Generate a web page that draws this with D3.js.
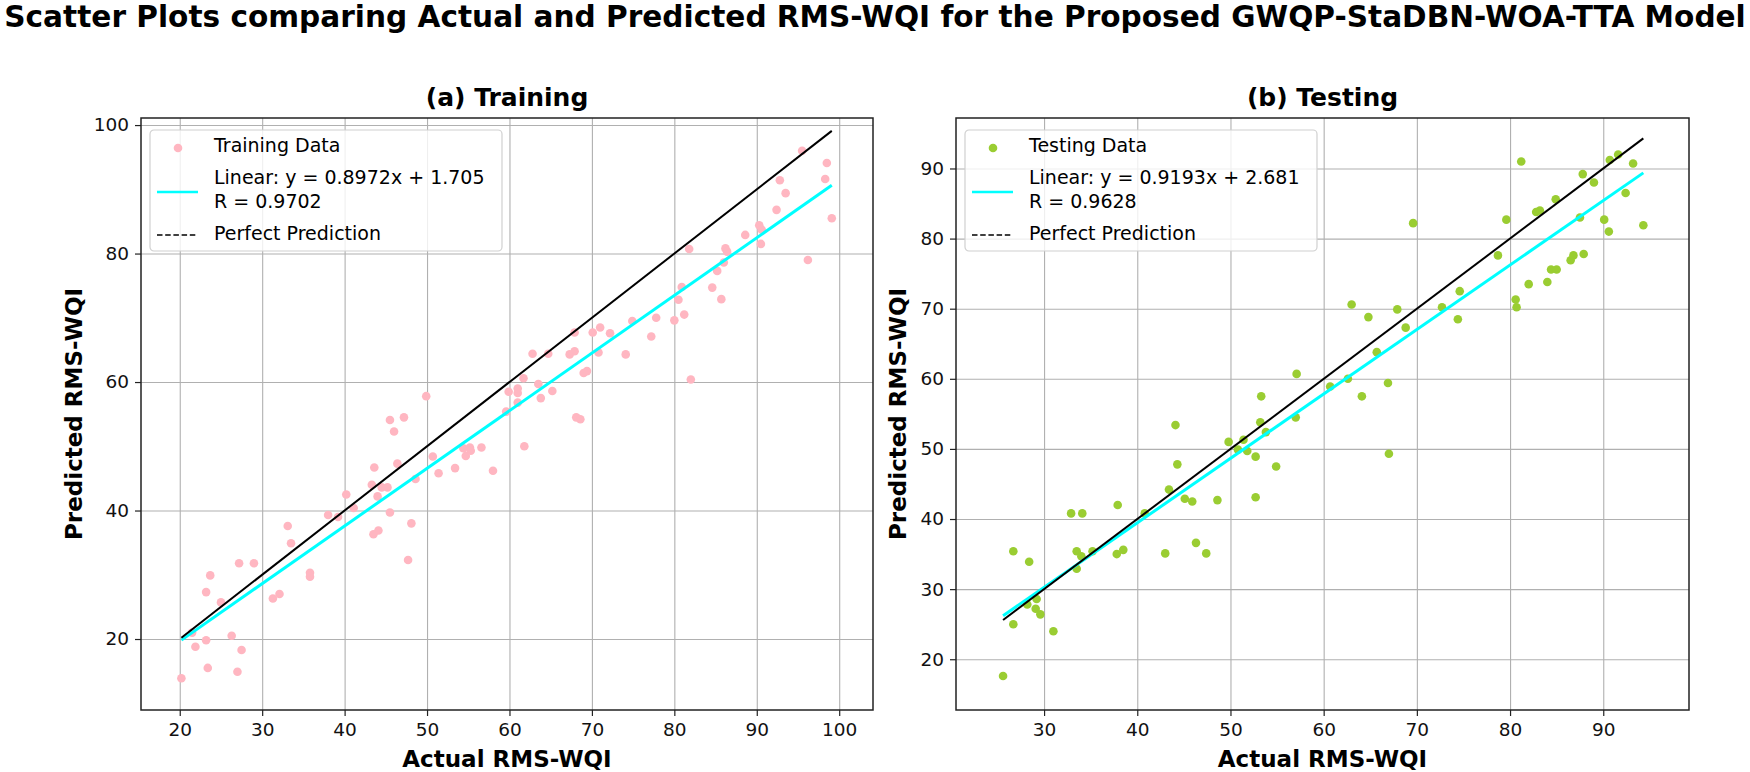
<!DOCTYPE html>
<html>
<head>
<meta charset="UTF-8">
<title>Scatter Plots RMS-WQI</title>
<script src="https://d3js.org/d3.v7.min.js"></script>
<style>
    body { margin: 0; background: #fff; }
    svg text { font-family: "DejaVu Sans", sans-serif; fill: #000; }
    .tick text { font-size: 18.5px; }
    .domain { display: none; }
</style>
</head>
<body>
<div id="chart"></div>
<script>
    var width = 1750,
        height = 772;

    // training set (actual, predicted)
    var trainActual = [92.8, 93.5, 92.4, 90.3, 90.6, 90.5, 88.6, 86.2, 86.4, 86.0, 85.2, 84.6, 85.7, 81.8, 80.9, 80.5,
        81.2, 80.0, 77.8, 77.2, 74.9, 74.1, 72.2, 71.0, 70.1, 70.8, 67.9, 67.9, 67.3, 69.0, 69.4, 64.7, 62.8, 61.7,
        82.0, 63.5, 65.2, 59.9, 61.0, 61.0, 98.5, 98.3, 99.1, 96.2, 95.5,
        49.9, 45.5, 47.2, 46.0, 50.7, 51.4, 46.4, 48.6, 43.6, 43.3, 44.5, 45.2, 44.0, 40.2, 41.1, 38.0, 39.2, 45.5,
        48.1, 43.5, 44.1, 47.7, 33.1, 33.5, 27.2, 29.0, 35.8, 35.8, 31.3, 32.1, 23.7, 23.2, 25.0, 21.5, 23.2, 21.9,
        26.3, 27.5, 23.4, 27.0, 20.2,
        63.8, 61.0, 59.6, 68.1, 68.6, 61.8, 56.6, 54.4, 55.2, 55.3, 54.7, 53.4, 58.0];
    var trainPredicted = [91.4, 89.4, 86.8, 84.4, 83.7, 81.5, 82.9, 80.8, 80.3, 78.6, 77.3, 74.7, 72.9, 80.7, 74.8, 72.8,
        70.5, 69.6, 70.0, 67.1, 69.5, 64.3, 67.6, 68.5, 67.7, 64.6, 67.7, 64.8, 64.3, 61.4, 61.7, 64.4, 64.4, 60.6,
        60.4, 59.7, 58.6, 58.5, 59.0, 58.3, 94.1, 91.6, 85.5, 79.0, 96.0,
        57.8, 54.1, 54.5, 52.3, 48.4, 45.8, 47.3, 44.9, 46.7, 44.0, 43.6, 43.6, 42.2, 42.5, 40.4, 39.3, 39.0, 39.7,
        38.0, 36.3, 36.9, 32.3, 37.6, 34.9, 31.8, 31.8, 30.3, 29.7, 26.3, 27.0, 29.9, 27.3, 25.7, 21.0, 19.8, 18.8,
        20.5, 18.3, 15.5, 14.9, 13.9,
        57.5, 56.8, 55.4, 54.5, 54.2, 50.0, 49.8, 49.7, 49.8, 49.3, 48.5, 46.6, 46.2];

    // testing set (actual, predicted)
    var testActual = [69.6, 79.6, 78.7, 63.0, 64.8, 67.9, 68.8, 72.7, 74.6, 74.4, 65.7, 57.1, 60.7, 62.6, 66.9, 53.3, 64.1,
        81.2, 90.7, 91.6, 93.2, 87.8, 89.0, 92.4, 84.9, 80.6, 80.7, 82.0, 82.8, 83.2, 84.0, 84.4, 85.0, 86.5, 86.8,
        87.5, 87.9, 90.1, 90.6, 94.3,
        25.6, 26.7, 26.7, 28.4, 28.2, 29.2, 29.1, 29.6, 31.0, 32.9, 34.1, 33.5, 34.0, 35.2, 33.5, 37.9, 37.8, 38.5, 40.8,
        67.0, 57.0, 53.2, 53.8, 44.1, 44.3, 49.8, 51.4, 50.8, 51.8, 52.7, 54.9, 43.4, 45.1, 45.9, 48.6, 52.7, 43.0,
        46.3, 47.4];
    var testPredicted = [82.2, 82.7, 77.6, 70.6, 68.8, 69.9, 67.3, 70.2, 72.5, 68.5, 63.8, 60.7, 58.9, 60.0, 59.4, 57.5, 57.5,
        91.0, 91.2, 92.0, 90.7, 89.2, 88.0, 86.5, 85.6, 71.3, 70.2, 73.5, 83.8, 84.0, 73.8, 75.6, 75.6, 76.9, 77.6,
        83.0, 77.8, 82.7, 81.0, 81.9,
        17.6, 35.4, 25.0, 33.9, 27.8, 28.6, 27.2, 26.4, 24.0, 40.8, 40.8, 35.4, 34.7, 35.4, 32.9, 42.0, 35.0, 35.6, 40.8,
        49.3, 54.5, 53.8, 52.4, 53.4, 47.8, 51.0, 51.3, 49.9, 49.7, 48.9, 47.5, 44.2, 42.9, 42.5, 42.7, 43.1, 35.1,
        36.6, 35.1];

    // regression results shown in the legends
    var trainFit = { slope: 0.8972, intercept: 1.705, r: 0.9702 };
    var testFit = { slope: 0.9193, intercept: 2.681, r: 0.9628 };

    // tick labels
    var trainXTicks = [20, 30, 40, 50, 60, 70, 80, 90, 100];
    var trainYTicks = [20, 40, 60, 80, 100];
    var testXTicks = [30, 40, 50, 60, 70, 80, 90];
    var testYTicks = [20, 30, 40, 50, 60, 70, 80, 90];

    var svg = d3.select("#chart").append("svg")
        .attr("width", width)
        .attr("height", height);

    // main title, fitted to figure width
    var title = svg.append("text")
        .attr("x", width / 2)
        .attr("y", 27)
        .attr("text-anchor", "middle")
        .style("font-size", "30px")
        .style("font-weight", "bold")
        .text("Scatter Plots comparing Actual and Predicted RMS-WQI for the Proposed GWQP-StaDBN-WOA-TTA Model");
    var tw = title.node().getComputedTextLength();
    title.style("font-size", (30 * 1742 / tw) + "px");

    var panels = [
        {
            title: "(a) Training", left: 141, right: 873, ylabelX: 82,
            xDomain: [15.3, 104.1], yDomain: [8.95, 101.1],
            xTicks: trainXTicks, yTicks: trainYTicks,
            actual: trainActual, predicted: trainPredicted, fit: trainFit,
            color: "#ffb6c1", dataLabel: "Training Data"
        },
        {
            title: "(b) Testing", left: 956, right: 1689, ylabelX: 906,
            xDomain: [20.55, 99.2], yDomain: [12.76, 97.2],
            xTicks: testXTicks, yTicks: testYTicks,
            actual: testActual, predicted: testPredicted, fit: testFit,
            color: "#9acd32", dataLabel: "Testing Data"
        }
    ];
    var plotTop = 118, plotBottom = 710;

    panels.forEach(function(p) {
        var x = d3.scaleLinear().domain(p.xDomain).range([p.left, p.right]);
        var y = d3.scaleLinear().domain(p.yDomain).range([plotBottom, plotTop]);
        var g = svg.append("g");

        // grid
        g.append("g").attr("class", "grid")
            .attr("transform", "translate(0," + plotBottom + ")")
            .call(d3.axisBottom(x).tickValues(p.xTicks).tickSize(-(plotBottom - plotTop)).tickFormat(""));
        g.append("g").attr("class", "grid")
            .attr("transform", "translate(" + p.left + ",0)")
            .call(d3.axisLeft(y).tickValues(p.yTicks).tickSize(-(p.right - p.left)).tickFormat(""));

        // points
        var pts = p.actual.map(function(a, i) { return [a, p.predicted[i]]; });
        g.selectAll("circle.pt").data(pts).enter().append("circle")
            .attr("class", "pt")
            .attr("cx", function(d) { return x(d[0]); })
            .attr("cy", function(d) { return y(d[1]); })
            .attr("r", 4.3)
            .style("fill", p.color);

        // fit line and perfect prediction line over the data range
        var ext = d3.extent(p.actual);
        var line = d3.line().x(function(d) { return x(d[0]); }).y(function(d) { return y(d[1]); });
        g.append("path")
            .datum(ext.map(function(v) { return [v, p.fit.slope * v + p.fit.intercept]; }))
            .attr("d", line)
            .style("fill", "none").style("stroke", "#00ffff").style("stroke-width", 3);
        g.append("path")
            .datum(ext.map(function(v) { return [v, v]; }))
            .attr("d", line)
            .style("fill", "none").style("stroke", "#000").style("stroke-width", 2);

        // axes
        g.append("g")
            .attr("transform", "translate(0," + plotBottom + ")")
            .call(d3.axisBottom(x).tickValues(p.xTicks).tickSize(6).tickPadding(7));
        g.append("g")
            .attr("transform", "translate(" + p.left + ",0)")
            .call(d3.axisLeft(y).tickValues(p.yTicks).tickSize(6).tickPadding(6));
        g.selectAll(".tick line").style("stroke", "#222").style("stroke-width", 1.2);
        g.selectAll(".grid .tick line").style("stroke", "#b0b0b0").style("stroke-width", 1.1);
        g.selectAll(".tick text").style("fill", "#111");

        g.append("rect")
            .attr("x", p.left).attr("y", plotTop)
            .attr("width", p.right - p.left).attr("height", plotBottom - plotTop)
            .style("fill", "none").style("stroke", "#222").style("stroke-width", 1.5);

        // titles
        var cx = (p.left + p.right) / 2;
        g.append("text").attr("x", cx).attr("y", 106)
            .attr("text-anchor", "middle")
            .style("font-size", "25px").style("font-weight", "bold")
            .text(p.title);
        g.append("text").attr("x", cx).attr("y", 767)
            .attr("text-anchor", "middle")
            .style("font-size", "23px").style("font-weight", "bold")
            .text("Actual RMS-WQI");
        g.append("text")
            .attr("transform", "translate(" + p.ylabelX + "," + ((plotTop + plotBottom) / 2) + ") rotate(-90)")
            .attr("text-anchor", "middle")
            .style("font-size", "23px").style("font-weight", "bold")
            .text("Predicted RMS-WQI");

        // legend
        var lx = p.left + 9, ly = plotTop + 12;
        var lg = g.append("g").attr("transform", "translate(" + lx + "," + ly + ")");
        lg.append("rect")
            .attr("width", 352).attr("height", 121).attr("rx", 4)
            .style("fill", "#fff").style("fill-opacity", 0.8)
            .style("stroke", "#d0d0d0").style("stroke-width", 1.2);
        lg.append("circle").attr("cx", 28).attr("cy", 18).attr("r", 4.3).style("fill", p.color);
        lg.append("line").attr("x1", 7).attr("x2", 48).attr("y1", 62).attr("y2", 62)
            .style("stroke", "#00ffff").style("stroke-width", 2.5);
        lg.append("line").attr("x1", 7).attr("x2", 48).attr("y1", 105).attr("y2", 105)
            .style("stroke", "#000").style("stroke-width", 1.4).style("stroke-dasharray", "5.5,2.7");
        var labels = [
            [p.dataLabel, 22],
            ["Linear: y = " + p.fit.slope.toFixed(4) + "x + " + p.fit.intercept.toFixed(3), 54],
            ["R = " + p.fit.r.toFixed(4), 78],
            ["Perfect Prediction", 110]
        ];
        lg.selectAll("text.lab").data(labels).enter().append("text")
            .attr("class", "lab")
            .attr("x", 64)
            .attr("y", function(d) { return d[1]; })
            .style("font-size", "19px")
            .text(function(d) { return d[0]; });
    });
</script>
</body>
</html>
